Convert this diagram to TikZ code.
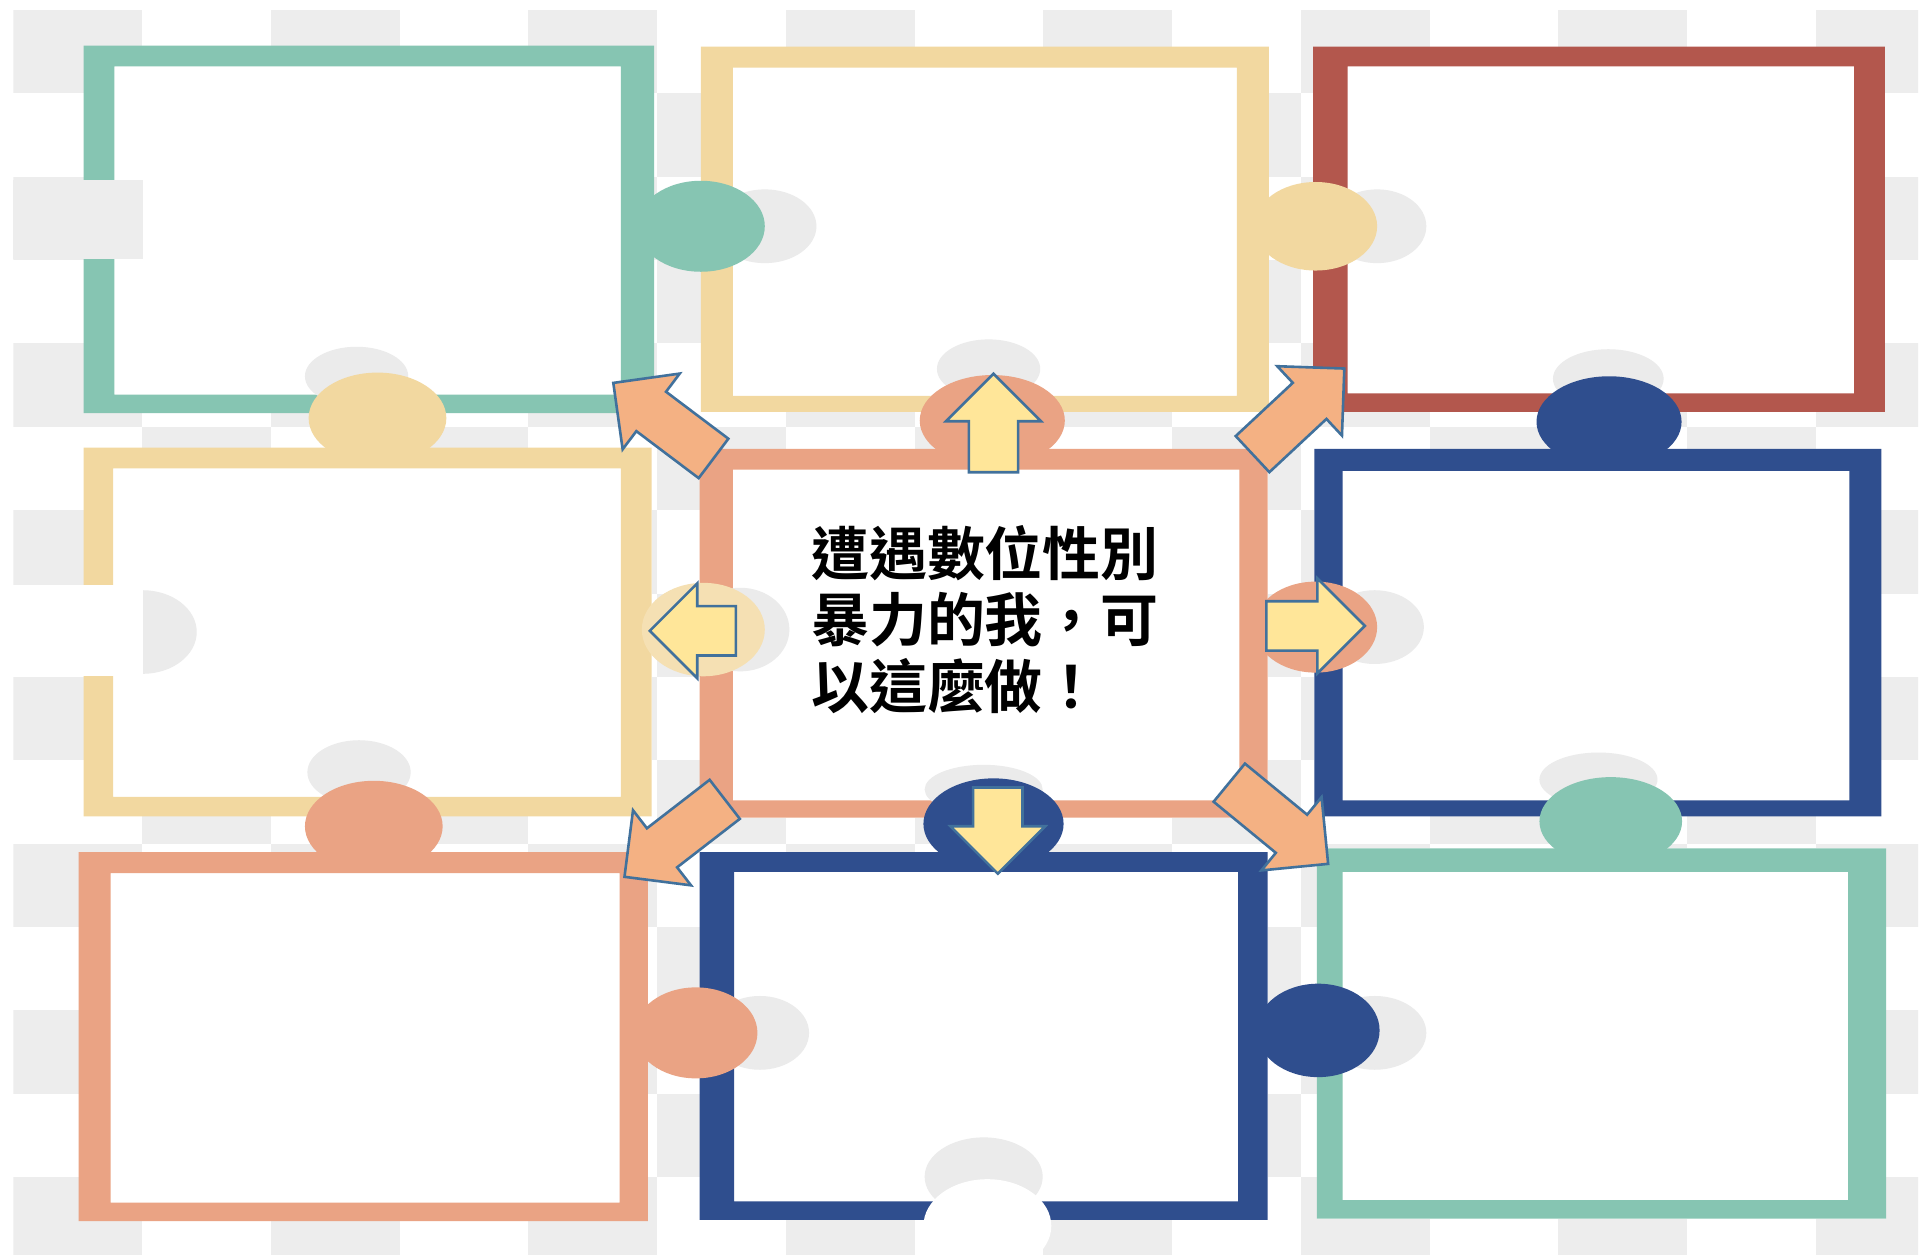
\documentclass[tikz,border=0pt]{standalone}
\usepackage{fontspec}
\newfontfamily\cjk[BoldFont={Noto Sans CJK TC Bold}]{Noto Sans CJK TC}
\usetikzlibrary{shapes.arrows}

\definecolor{pzteal}{HTML}{86C5B2}
\definecolor{pzyellow}{HTML}{F2D8A0}
\definecolor{pzred}{HTML}{B3574D}
\definecolor{pzsalmon}{HTML}{EAA384}
\definecolor{pznavy}{HTML}{2F4E8E}
\definecolor{arrsalmon}{HTML}{F4B183}
\definecolor{arryellow}{HTML}{FFE699}
\definecolor{arrline}{HTML}{41719C}
\definecolor{checkgray}{HTML}{EDEDED}
\definecolor{ghostgray}{HTML}{EBEBEB}

\begin{document}
\begin{tikzpicture}[x=0.01cm,y=-0.01cm,
    frame/.style={even odd rule},
    ghost/.style={fill=ghostgray},
    bigarrow/.style={single arrow, draw=arrline, line width=0.6pt, anchor=tip,
	inner xsep=0pt, inner ysep=0.19cm, single arrow head extend=0.185cm},
    words/.style={font=\cjk\bfseries\fontsize{13.4}{15}\selectfont, inner sep=0pt, anchor=base west}]
    \useasboundingbox (0,0) rectangle (1568,1023);
    \fill[white] (0,0) rectangle (1568,1023);

    % checker background
    \begin{scope}
	\clip (10.9,8.1) rectangle (1560,1020);
	\foreach \i in {0,...,14}
	\foreach \j in {0,...,14}{
	    \pgfmathtruncatemacro\chk{mod(\i+\j,2)}
	    \ifnum\chk=0
		\fill[checkgray] (10.9+104.7*\i,8.1+67.8*\j) rectangle ++(104.7,67.8);
	    \fi
	}
    \end{scope}

    % pieces
    \begin{scope}[shift={(68,37)}]
	\fill[white] (0,0) rectangle (464,299);
	\fill[pzteal, frame] (0,0) rectangle (464,299) (25,17) rectangle (437,284);
    \end{scope}
    \begin{scope}[shift={(570,38)}]
	\fill[white] (0,0) rectangle (462,297);
	\fill[pzyellow, frame] (0,0) rectangle (462,297) (26,17) rectangle (436,284);
    \end{scope}
    \begin{scope}[shift={(1068,38)}]
	\fill[white] (0,0) rectangle (465,297);
	\fill[pzred, frame] (0,0) rectangle (465,297) (28,16) rectangle (440,282);
    \end{scope}
    \begin{scope}[shift={(68,364)}]
	\fill[white] (0,0) rectangle (462,300);
	\fill[pzyellow, frame] (0,0) rectangle (462,300) (24,17) rectangle (437,284);
    \end{scope}
    \begin{scope}[shift={(569,365)}]
	\fill[white] (0,0) rectangle (462,300);
	\fill[pzsalmon, frame] (0,0) rectangle (462,300) (27,17) rectangle (439,286);
    \end{scope}
    \begin{scope}[shift={(1069,365)}]
	\fill[white] (0,0) rectangle (461,299);
	\fill[pznavy, frame] (0,0) rectangle (461,299) (23,18) rectangle (435,286);
    \end{scope}
    \begin{scope}[shift={(64,693)}]
	\fill[white] (0,0) rectangle (463,300);
	\fill[pzsalmon, frame] (0,0) rectangle (463,300) (26,17) rectangle (440,285);
    \end{scope}
    \begin{scope}[shift={(569,693)}]
	\fill[white] (0,0) rectangle (462,299);
	\fill[pznavy, frame] (0,0) rectangle (462,299) (28,16) rectangle (438,284);
    \end{scope}
    \begin{scope}[shift={(1071,690)}]
	\fill[white] (0,0) rectangle (463,301);
	\fill[pzteal, frame] (0,0) rectangle (463,301) (21,19) rectangle (432,286);
    \end{scope}

    % notches on the left edge
    \fill[checkgray] (10.9,146) rectangle (116,211);
    \fill[ghost] (116,514) ellipse (44 and 34);
    \fill[white] (10.9,476) rectangle (116,550);

    % ghosts
    \fill[ghost] (290,306) ellipse (42 and 24);
    \fill[ghost] (622,184) ellipse (42 and 30);
    \fill[ghost] (804,300) ellipse (42 and 24);
    \fill[ghost] (1120,184) ellipse (40 and 30);
    \fill[ghost] (1308,308) ellipse (45 and 24);
    \fill[ghost] (292,628) ellipse (42 and 26);
    \fill[ghost] (602,512) ellipse (40 and 34);
    \fill[ghost] (800,642) ellipse (48 and 20);
    \fill[ghost] (1118,510) ellipse (40 and 30);
    \fill[ghost] (1300,634) ellipse (48 and 22);
    \fill[ghost] (618,840) ellipse (40 and 30);
    \fill[ghost] (1118,840) ellipse (42 and 30);
    \fill[ghost] (800,957) ellipse (48 and 32);
    \fill[white] (803,997) ellipse (52 and 38);

    % knobs
    \fill[pzteal] (570,184) ellipse (52 and 37);
    \fill[pzyellow] (1070,184) ellipse (50 and 36);
    \fill[pzyellow] (307,340) ellipse (56 and 37);
    \fill[pzsalmon] (807,342) ellipse (59 and 37);
    \fill[pznavy] (1308.6,343) ellipse (59 and 37);
    \fill[pzyellow!80!white] (572,512) ellipse (50 and 38);
    \fill[pzsalmon] (1070,510) ellipse (50 and 37);
    \fill[pzsalmon] (304,672) ellipse (56 and 37);
    \fill[pznavy] (808,670) ellipse (57 and 37);
    \fill[pzteal] (1310,668) ellipse (58 and 36);
    \fill[pzsalmon] (566,840) ellipse (50 and 37);
    \fill[pznavy] (1072,838) ellipse (50 and 38);

    % arrows
    \node[bigarrow, fill=arryellow, minimum height=0.80cm, rotate=90] (aup) at (808,302.5) {};
    \node[bigarrow, fill=arryellow, minimum height=0.70cm, rotate=270] (adown) at (811.5,712) {};
    \node[bigarrow, fill=arryellow, minimum height=0.70cm, rotate=180] (aleft) at (527,513) {};
    \node[bigarrow, fill=arryellow, minimum height=0.80cm] (aright) at (1111.5,509) {};
    \node[bigarrow, fill=arrsalmon, minimum height=1.02cm, rotate=143] (anw) at (497.6,310.5) {};
    \node[bigarrow, fill=arrsalmon, minimum height=1.02cm, rotate=43] (ane) at (1094.4,298.7) {};
    \node[bigarrow, fill=arrsalmon, minimum height=1.03cm, rotate=217.7] (asw) at (506.7,714) {};
    \node[bigarrow, fill=arrsalmon, minimum height=1.04cm, rotate=320.6] (ase) at (1081.3,703.5) {};

    % centre text
    \node[words] (line1) at (659,468) {遭遇數位性別};
    \node[words] (line2) at (659,522) {暴力的我，可};
    \node[words] (line3) at (659,576) {以這麼做！};
\end{tikzpicture}
\end{document}
